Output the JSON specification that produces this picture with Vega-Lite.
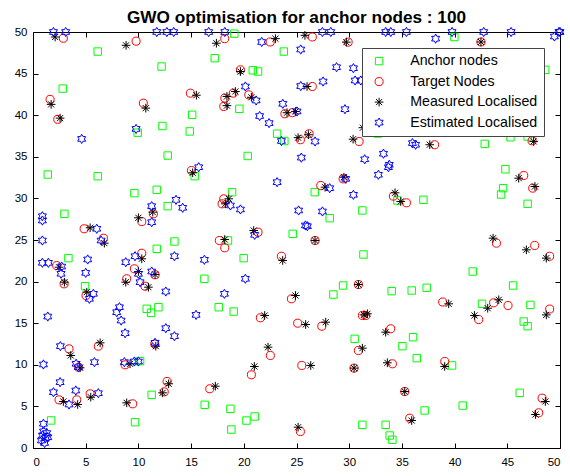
{
  "$schema": "https://vega.github.io/schema/vega-lite/v6.json",
  "autosize": "none",
  "width": 527,
  "height": 416,
  "padding": {"left": 33, "top": 32, "right": 10, "bottom": 28},
  "background": "white",
  "title": {"text": "GWO optimisation for anchor nodes : 100", "font": "Liberation Sans", "fontSize": 17.2, "fontWeight": "bold", "color": "black", "anchor": "middle", "offset": -1},
  "config": {"view": {"stroke": "black", "strokeWidth": 1}, "axis": {"grid": false, "domainColor": "black", "tickColor": "black", "labelColor": "black", "labelFont": "Liberation Sans", "labelFontSize": 11.5, "tickSize": -5, "title": null}},
  "datasets": {
    "pts": [
      {"s":"Anchor nodes","x":6.14,"y":47.65},{"s":"Anchor nodes","x":12.2,"y":45.85},{"s":"Anchor nodes","x":2.82,"y":43.2},{"s":"Anchor nodes","x":12.28,"y":38.7},{"s":"Anchor nodes","x":9.93,"y":37.9},{"s":"Anchor nodes","x":12.78,"y":35.15},{"s":"Anchor nodes","x":19.1,"y":49.8},{"s":"Anchor nodes","x":23.8,"y":47.65},{"s":"Anchor nodes","x":17.24,"y":46.85},{"s":"Anchor nodes","x":20.85,"y":45.4},{"s":"Anchor nodes","x":21.35,"y":45.25},{"s":"Anchor nodes","x":19.58,"y":40.77},{"s":"Anchor nodes","x":15.1,"y":40.05},{"s":"Anchor nodes","x":23.16,"y":37.77},{"s":"Anchor nodes","x":23.85,"y":36.9},{"s":"Anchor nodes","x":14.87,"y":38.05},{"s":"Anchor nodes","x":20.37,"y":35.1},{"s":"Anchor nodes","x":32.7,"y":37.8},{"s":"Anchor nodes","x":39.98,"y":49.4},{"s":"Anchor nodes","x":48.6,"y":45.45},{"s":"Anchor nodes","x":42.86,"y":36.55},{"s":"Anchor nodes","x":45.3,"y":37.35},{"s":"Anchor nodes","x":46.93,"y":37.44},{"s":"Anchor nodes","x":44.82,"y":33.5},{"s":"Anchor nodes","x":1.4,"y":32.87},{"s":"Anchor nodes","x":6.14,"y":32.67},{"s":"Anchor nodes","x":9.62,"y":30.63},{"s":"Anchor nodes","x":11.74,"y":31.03},{"s":"Anchor nodes","x":12.78,"y":29.07},{"s":"Anchor nodes","x":2.98,"y":28.15},{"s":"Anchor nodes","x":11.74,"y":23.94},{"s":"Anchor nodes","x":3.36,"y":22.82},{"s":"Anchor nodes","x":4.94,"y":19.45},{"s":"Anchor nodes","x":10.79,"y":16.73},{"s":"Anchor nodes","x":11.9,"y":16.92},{"s":"Anchor nodes","x":11.2,"y":16.25},{"s":"Anchor nodes","x":13.42,"y":24.82},{"s":"Anchor nodes","x":15.34,"y":32.67},{"s":"Anchor nodes","x":18.89,"y":30.75},{"s":"Anchor nodes","x":24.64,"y":25.74},{"s":"Anchor nodes","x":18.5,"y":24.94},{"s":"Anchor nodes","x":19.99,"y":22.82},{"s":"Anchor nodes","x":16.26,"y":20.34},{"s":"Anchor nodes","x":17.62,"y":16.92},{"s":"Anchor nodes","x":19.04,"y":16.4},{"s":"Anchor nodes","x":26.73,"y":30.75},{"s":"Anchor nodes","x":34.57,"y":29.75},{"s":"Anchor nodes","x":37.04,"y":29.83},{"s":"Anchor nodes","x":28.15,"y":27.62},{"s":"Anchor nodes","x":31.25,"y":28.55},{"s":"Anchor nodes","x":31.35,"y":23.26},{"s":"Anchor nodes","x":29.42,"y":19.53},{"s":"Anchor nodes","x":28.5,"y":18.45},{"s":"Anchor nodes","x":34.03,"y":18.85},{"s":"Anchor nodes","x":35.93,"y":18.93},{"s":"Anchor nodes","x":37.35,"y":19.26},{"s":"Anchor nodes","x":44.6,"y":31.23},{"s":"Anchor nodes","x":44.41,"y":30.47},{"s":"Anchor nodes","x":46.93,"y":29.35},{"s":"Anchor nodes","x":41.72,"y":21.21},{"s":"Anchor nodes","x":45.55,"y":19.53},{"s":"Anchor nodes","x":42.6,"y":17.33},{"s":"Anchor nodes","x":47.19,"y":17.2},{"s":"Anchor nodes","x":46.56,"y":15.2},{"s":"Anchor nodes","x":46.93,"y":14.64},{"s":"Anchor nodes","x":39.76,"y":9.92},{"s":"Anchor nodes","x":46.18,"y":6.63},{"s":"Anchor nodes","x":40.77,"y":5.1},{"s":"Anchor nodes","x":30.52,"y":13.12},{"s":"Anchor nodes","x":36.06,"y":13.32},{"s":"Anchor nodes","x":35.05,"y":12.24},{"s":"Anchor nodes","x":36.41,"y":10.8},{"s":"Anchor nodes","x":37.16,"y":4.51},{"s":"Anchor nodes","x":31.25,"y":2.79},{"s":"Anchor nodes","x":33.46,"y":2.79},{"s":"Anchor nodes","x":33.84,"y":1.5},{"s":"Anchor nodes","x":34.1,"y":0.99},{"s":"Anchor nodes","x":16.29,"y":5.19},{"s":"Anchor nodes","x":18.73,"y":4.71},{"s":"Anchor nodes","x":20.25,"y":3.3},{"s":"Anchor nodes","x":21.03,"y":3.79},{"s":"Anchor nodes","x":18.82,"y":2.22},{"s":"Anchor nodes","x":10.16,"y":10.44},{"s":"Anchor nodes","x":11.26,"y":6.39},{"s":"Anchor nodes","x":9.68,"y":3.1},{"s":"Anchor nodes","x":1.72,"y":3.31},
      {"s":"Target Nodes","x":2.88,"y":49.25},{"s":"Target Nodes","x":9.78,"y":48.9},{"s":"Target Nodes","x":1.62,"y":41.9},{"s":"Target Nodes","x":10.47,"y":41.45},{"s":"Target Nodes","x":2.35,"y":39.5},{"s":"Target Nodes","x":18.19,"y":49.2},{"s":"Target Nodes","x":22.5,"y":48.8},{"s":"Target Nodes","x":19.68,"y":45.45},{"s":"Target Nodes","x":14.93,"y":42.65},{"s":"Target Nodes","x":19.0,"y":42.65},{"s":"Target Nodes","x":18.2,"y":42.05},{"s":"Target Nodes","x":18.1,"y":41.05},{"s":"Target Nodes","x":20.47,"y":42.45},{"s":"Target Nodes","x":23.9,"y":40.17},{"s":"Target Nodes","x":24.6,"y":40.3},{"s":"Target Nodes","x":25.37,"y":37.05},{"s":"Target Nodes","x":26.5,"y":49.4},{"s":"Target Nodes","x":29.9,"y":48.78},{"s":"Target Nodes","x":26.5,"y":43.45},{"s":"Target Nodes","x":26.2,"y":37.77},{"s":"Target Nodes","x":30.94,"y":36.84},{"s":"Target Nodes","x":38.1,"y":36.45},{"s":"Target Nodes","x":42.5,"y":48.8},{"s":"Target Nodes","x":47.35,"y":36.92},{"s":"Target Nodes","x":4.85,"y":26.35},{"s":"Target Nodes","x":6.68,"y":25.22},{"s":"Target Nodes","x":10.32,"y":27.22},{"s":"Target Nodes","x":11.42,"y":28.15},{"s":"Target Nodes","x":2.25,"y":21.93},{"s":"Target Nodes","x":2.95,"y":19.73},{"s":"Target Nodes","x":5.03,"y":18.33},{"s":"Target Nodes","x":10.32,"y":23.41},{"s":"Target Nodes","x":9.62,"y":21.54},{"s":"Target Nodes","x":8.89,"y":20.34},{"s":"Target Nodes","x":11.58,"y":20.82},{"s":"Target Nodes","x":10.63,"y":19.45},{"s":"Target Nodes","x":15.03,"y":33.35},{"s":"Target Nodes","x":18.1,"y":29.95},{"s":"Target Nodes","x":17.94,"y":29.35},{"s":"Target Nodes","x":21.35,"y":25.94},{"s":"Target Nodes","x":17.68,"y":24.94},{"s":"Target Nodes","x":18.19,"y":24.06},{"s":"Target Nodes","x":23.57,"y":23.05},{"s":"Target Nodes","x":24.52,"y":17.93},{"s":"Target Nodes","x":27.3,"y":31.55},{"s":"Target Nodes","x":29.42,"y":32.35},{"s":"Target Nodes","x":34.19,"y":30.27},{"s":"Target Nodes","x":35.43,"y":29.47},{"s":"Target Nodes","x":26.76,"y":24.94},{"s":"Target Nodes","x":30.87,"y":19.65},{"s":"Target Nodes","x":38.87,"y":17.55},{"s":"Target Nodes","x":46.56,"y":32.75},{"s":"Target Nodes","x":47.41,"y":31.23},{"s":"Target Nodes","x":43.97,"y":24.62},{"s":"Target Nodes","x":47.6,"y":24.34},{"s":"Target Nodes","x":49.02,"y":23.05},{"s":"Target Nodes","x":43.7,"y":17.45},{"s":"Target Nodes","x":45.07,"y":17.13},{"s":"Target Nodes","x":49.02,"y":16.7},{"s":"Target Nodes","x":42.29,"y":15.44},{"s":"Target Nodes","x":39.06,"y":10.4},{"s":"Target Nodes","x":48.3,"y":5.99},{"s":"Target Nodes","x":47.98,"y":4.23},{"s":"Target Nodes","x":27.4,"y":14.64},{"s":"Target Nodes","x":31.25,"y":15.93},{"s":"Target Nodes","x":31.57,"y":15.93},{"s":"Target Nodes","x":33.94,"y":14.33},{"s":"Target Nodes","x":30.87,"y":11.72},{"s":"Target Nodes","x":25.5,"y":9.92},{"s":"Target Nodes","x":30.46,"y":9.6},{"s":"Target Nodes","x":34.1,"y":10.12},{"s":"Target Nodes","x":35.27,"y":6.79},{"s":"Target Nodes","x":35.74,"y":3.58},{"s":"Target Nodes","x":25.37,"y":1.98},{"s":"Target Nodes","x":21.57,"y":15.65},{"s":"Target Nodes","x":25.11,"y":15.0},{"s":"Target Nodes","x":22.52,"y":11.12},{"s":"Target Nodes","x":20.72,"y":8.8},{"s":"Target Nodes","x":12.72,"y":8.0},{"s":"Target Nodes","x":12.45,"y":6.75},{"s":"Target Nodes","x":16.77,"y":7.12},{"s":"Target Nodes","x":3.42,"y":11.92},{"s":"Target Nodes","x":4.31,"y":9.71},{"s":"Target Nodes","x":6.2,"y":12.24},{"s":"Target Nodes","x":8.74,"y":10.0},{"s":"Target Nodes","x":11.55,"y":12.5},{"s":"Target Nodes","x":2.47,"y":5.79},{"s":"Target Nodes","x":4.15,"y":5.79},{"s":"Target Nodes","x":5.42,"y":6.51},{"s":"Target Nodes","x":9.46,"y":5.31},
      {"s":"Measured Localised","x":2.1,"y":49.4},{"s":"Measured Localised","x":8.83,"y":48.4},{"s":"Measured Localised","x":1.72,"y":41.3},{"s":"Measured Localised","x":10.7,"y":40.85},{"s":"Measured Localised","x":2.57,"y":39.65},{"s":"Measured Localised","x":17.4,"y":48.65},{"s":"Measured Localised","x":23.0,"y":49.2},{"s":"Measured Localised","x":25.8,"y":49.6},{"s":"Measured Localised","x":19.68,"y":45.25},{"s":"Measured Localised","x":26.0,"y":43.45},{"s":"Measured Localised","x":15.5,"y":42.4},{"s":"Measured Localised","x":19.2,"y":42.85},{"s":"Measured Localised","x":18.4,"y":42.25},{"s":"Measured Localised","x":18.4,"y":41.15},{"s":"Measured Localised","x":20.72,"y":42.15},{"s":"Measured Localised","x":24.1,"y":40.3},{"s":"Measured Localised","x":24.9,"y":40.45},{"s":"Measured Localised","x":25.15,"y":37.3},{"s":"Measured Localised","x":29.73,"y":48.78},{"s":"Measured Localised","x":26.13,"y":37.65},{"s":"Measured Localised","x":30.37,"y":37.12},{"s":"Measured Localised","x":31.3,"y":38.5},{"s":"Measured Localised","x":37.64,"y":36.45},{"s":"Measured Localised","x":42.5,"y":48.8},{"s":"Measured Localised","x":47.5,"y":36.85},{"s":"Measured Localised","x":5.42,"y":26.47},{"s":"Measured Localised","x":6.77,"y":24.62},{"s":"Measured Localised","x":10.0,"y":27.67},{"s":"Measured Localised","x":11.36,"y":28.35},{"s":"Measured Localised","x":2.47,"y":21.73},{"s":"Measured Localised","x":2.98,"y":19.93},{"s":"Measured Localised","x":5.1,"y":18.73},{"s":"Measured Localised","x":10.32,"y":22.74},{"s":"Measured Localised","x":10.0,"y":21.21},{"s":"Measured Localised","x":8.8,"y":19.93},{"s":"Measured Localised","x":11.58,"y":20.85},{"s":"Measured Localised","x":10.95,"y":19.33},{"s":"Measured Localised","x":15.15,"y":33.08},{"s":"Measured Localised","x":18.57,"y":29.95},{"s":"Measured Localised","x":18.25,"y":29.35},{"s":"Measured Localised","x":20.94,"y":26.14},{"s":"Measured Localised","x":18.19,"y":25.06},{"s":"Measured Localised","x":23.69,"y":22.54},{"s":"Measured Localised","x":24.9,"y":18.33},{"s":"Measured Localised","x":27.71,"y":31.35},{"s":"Measured Localised","x":29.5,"y":32.55},{"s":"Measured Localised","x":34.35,"y":30.67},{"s":"Measured Localised","x":34.89,"y":29.63},{"s":"Measured Localised","x":26.76,"y":24.94},{"s":"Measured Localised","x":30.87,"y":19.65},{"s":"Measured Localised","x":39.44,"y":17.33},{"s":"Measured Localised","x":46.08,"y":32.43},{"s":"Measured Localised","x":47.62,"y":31.43},{"s":"Measured Localised","x":43.65,"y":25.22},{"s":"Measured Localised","x":46.81,"y":23.82},{"s":"Measured Localised","x":48.7,"y":22.82},{"s":"Measured Localised","x":44.19,"y":17.81},{"s":"Measured Localised","x":43.14,"y":16.8},{"s":"Measured Localised","x":48.7,"y":16.0},{"s":"Measured Localised","x":41.88,"y":15.93},{"s":"Measured Localised","x":39.06,"y":9.8},{"s":"Measured Localised","x":48.61,"y":5.59},{"s":"Measured Localised","x":47.67,"y":4.03},{"s":"Measured Localised","x":25.87,"y":14.84},{"s":"Measured Localised","x":27.77,"y":15.12},{"s":"Measured Localised","x":31.4,"y":16.0},{"s":"Measured Localised","x":31.73,"y":16.13},{"s":"Measured Localised","x":33.46,"y":13.92},{"s":"Measured Localised","x":31.25,"y":12.0},{"s":"Measured Localised","x":26.35,"y":9.92},{"s":"Measured Localised","x":30.46,"y":9.6},{"s":"Measured Localised","x":33.62,"y":10.24},{"s":"Measured Localised","x":35.27,"y":6.79},{"s":"Measured Localised","x":35.93,"y":3.3},{"s":"Measured Localised","x":25.15,"y":2.5},{"s":"Measured Localised","x":21.98,"y":15.93},{"s":"Measured Localised","x":22.3,"y":12.12},{"s":"Measured Localised","x":21.0,"y":9.8},{"s":"Measured Localised","x":12.87,"y":7.72},{"s":"Measured Localised","x":12.3,"y":6.63},{"s":"Measured Localised","x":17.3,"y":7.43},{"s":"Measured Localised","x":3.58,"y":11.12},{"s":"Measured Localised","x":4.47,"y":9.64},{"s":"Measured Localised","x":6.37,"y":12.64},{"s":"Measured Localised","x":9.21,"y":10.12},{"s":"Measured Localised","x":11.65,"y":12.24},{"s":"Measured Localised","x":2.88,"y":5.59},{"s":"Measured Localised","x":4.24,"y":5.23},{"s":"Measured Localised","x":5.48,"y":6.11},{"s":"Measured Localised","x":8.89,"y":5.43},
      {"s":"Estimated Localised","x":1.94,"y":50},{"s":"Estimated Localised","x":3.1,"y":50},{"s":"Estimated Localised","x":11.74,"y":50},{"s":"Estimated Localised","x":12.7,"y":50},{"s":"Estimated Localised","x":13.35,"y":50},{"s":"Estimated Localised","x":16.67,"y":50},{"s":"Estimated Localised","x":18.2,"y":50},{"s":"Estimated Localised","x":27.46,"y":50},{"s":"Estimated Localised","x":28.25,"y":50},{"s":"Estimated Localised","x":33.46,"y":50},{"s":"Estimated Localised","x":33.94,"y":50},{"s":"Estimated Localised","x":35.43,"y":50},{"s":"Estimated Localised","x":39.76,"y":50},{"s":"Estimated Localised","x":42.76,"y":50},{"s":"Estimated Localised","x":45.36,"y":50},{"s":"Estimated Localised","x":49.9,"y":50},{"s":"Estimated Localised","x":50,"y":50},{"s":"Estimated Localised","x":49.47,"y":49.46},
      {"s":"Estimated Localised","x":9.78,"y":38.35},{"s":"Estimated Localised","x":4.62,"y":37.15},{"s":"Estimated Localised","x":21.7,"y":48.8},{"s":"Estimated Localised","x":25.4,"y":47.9},{"s":"Estimated Localised","x":25.4,"y":43.5},{"s":"Estimated Localised","x":20.15,"y":43.45},{"s":"Estimated Localised","x":21.17,"y":41.77},{"s":"Estimated Localised","x":23.7,"y":41.37},{"s":"Estimated Localised","x":25.05,"y":40.45},{"s":"Estimated Localised","x":21.5,"y":39.9},{"s":"Estimated Localised","x":22.4,"y":39.05},{"s":"Estimated Localised","x":23.57,"y":36.9},{"s":"Estimated Localised","x":25.46,"y":34.9},{"s":"Estimated Localised","x":38.2,"y":49.2},{"s":"Estimated Localised","x":28.8,"y":45.77},{"s":"Estimated Localised","x":30.4,"y":45.65},{"s":"Estimated Localised","x":30.56,"y":44.17},{"s":"Estimated Localised","x":31.1,"y":44.17},{"s":"Estimated Localised","x":27.52,"y":44.05},{"s":"Estimated Localised","x":29.6,"y":40.72},{"s":"Estimated Localised","x":26.76,"y":36.84},{"s":"Estimated Localised","x":36.0,"y":36.65},{"s":"Estimated Localised","x":36.3,"y":36.45},{"s":"Estimated Localised","x":33.25,"y":35.37},{"s":"Estimated Localised","x":31.47,"y":34.7},{"s":"Estimated Localised","x":33.8,"y":34.04},
      {"s":"Estimated Localised","x":0.89,"y":27.86},{"s":"Estimated Localised","x":0.89,"y":27.34},{"s":"Estimated Localised","x":0.89,"y":24.94},{"s":"Estimated Localised","x":6.05,"y":26.35},{"s":"Estimated Localised","x":6.46,"y":24.94},{"s":"Estimated Localised","x":11.26,"y":29.07},{"s":"Estimated Localised","x":11.26,"y":27.14},{"s":"Estimated Localised","x":5.19,"y":22.66},{"s":"Estimated Localised","x":5.0,"y":21.05},{"s":"Estimated Localised","x":0.89,"y":22.26},{"s":"Estimated Localised","x":1.46,"y":22.26},{"s":"Estimated Localised","x":2.72,"y":21.81},{"s":"Estimated Localised","x":2.66,"y":20.94},{"s":"Estimated Localised","x":5.73,"y":18.53},{"s":"Estimated Localised","x":5.35,"y":17.93},{"s":"Estimated Localised","x":8.8,"y":22.33},{"s":"Estimated Localised","x":9.68,"y":23.05},{"s":"Estimated Localised","x":10.0,"y":20.93},{"s":"Estimated Localised","x":11.26,"y":21.21},{"s":"Estimated Localised","x":10.16,"y":19.93},{"s":"Estimated Localised","x":12.6,"y":18.81},{"s":"Estimated Localised","x":8.2,"y":16.92},
      {"s":"Estimated Localised","x":15.72,"y":33.75},{"s":"Estimated Localised","x":23.16,"y":31.95},{"s":"Estimated Localised","x":18.73,"y":29.15},{"s":"Estimated Localised","x":19.68,"y":28.67},{"s":"Estimated Localised","x":13.57,"y":29.83},{"s":"Estimated Localised","x":14.2,"y":28.87},{"s":"Estimated Localised","x":25.2,"y":28.55},{"s":"Estimated Localised","x":25.85,"y":26.75},{"s":"Estimated Localised","x":21.03,"y":25.62},{"s":"Estimated Localised","x":13.42,"y":23.05},{"s":"Estimated Localised","x":16.26,"y":22.62},{"s":"Estimated Localised","x":20.15,"y":20.34},{"s":"Estimated Localised","x":18.16,"y":18.53},{"s":"Estimated Localised","x":28.15,"y":31.23},{"s":"Estimated Localised","x":29.67,"y":32.35},{"s":"Estimated Localised","x":32.77,"y":32.84},{"s":"Estimated Localised","x":33.72,"y":33.75},{"s":"Estimated Localised","x":30.4,"y":30.43},{"s":"Estimated Localised","x":27.46,"y":28.43},{"s":"Estimated Localised","x":26.03,"y":26.66},
      {"s":"Estimated Localised","x":15.47,"y":16.0},{"s":"Estimated Localised","x":12.6,"y":14.4},{"s":"Estimated Localised","x":13.42,"y":13.44},{"s":"Estimated Localised","x":1.4,"y":15.8},{"s":"Estimated Localised","x":7.94,"y":16.32},{"s":"Estimated Localised","x":8.36,"y":15.32},{"s":"Estimated Localised","x":8.74,"y":13.8},{"s":"Estimated Localised","x":2.6,"y":12.24},{"s":"Estimated Localised","x":4.09,"y":10.12},{"s":"Estimated Localised","x":4.31,"y":9.71},{"s":"Estimated Localised","x":5.83,"y":10.32},{"s":"Estimated Localised","x":0.99,"y":10.04},{"s":"Estimated Localised","x":8.67,"y":10.32},{"s":"Estimated Localised","x":9.62,"y":10.4},{"s":"Estimated Localised","x":10.0,"y":10.4},{"s":"Estimated Localised","x":11.58,"y":12.64},{"s":"Estimated Localised","x":2.57,"y":7.91},{"s":"Estimated Localised","x":1.94,"y":6.7},{"s":"Estimated Localised","x":3.42,"y":5.23},{"s":"Estimated Localised","x":4.06,"y":6.91},{"s":"Estimated Localised","x":6.2,"y":6.59},{"s":"Estimated Localised","x":0.99,"y":2.91},{"s":"Estimated Localised","x":1.0,"y":2.0},{"s":"Estimated Localised","x":1.3,"y":1.8},{"s":"Estimated Localised","x":0.9,"y":1.5},{"s":"Estimated Localised","x":1.2,"y":1.2},{"s":"Estimated Localised","x":0.8,"y":0.9},{"s":"Estimated Localised","x":1.1,"y":0.6},{"s":"Estimated Localised","x":1.4,"y":1.3}
    ]
  },
  "data": {"name": "pts"},
  "layer": [
    {
      "mark": {"type": "point", "filled": false, "opacity": 1},
      "encoding": {
        "x": {"field": "x", "type": "quantitative", "scale": {"domain": [0, 50], "nice": false, "zero": false}, "axis": {"orient": "bottom", "values": [0,5,10,15,20,25,30,35,40,45,50], "labelPadding": 13, "domain": false}},
        "y": {"field": "y", "type": "quantitative", "scale": {"domain": [0, 50], "nice": false, "zero": false}, "axis": {"orient": "left", "values": [0,5,10,15,20,25,30,35,40,45,50], "labelPadding": 11, "domain": false}},
        "color": {"field": "s", "type": "nominal", "scale": {"domain": ["Anchor nodes", "Target Nodes", "Measured Localised", "Estimated Localised"], "range": ["#00ff00", "#ff0000", "#000000", "#0000ff"]}, "legend": {"title": null, "orient": "none", "legendX": 329, "legendY": 16, "fillColor": "white", "strokeColor": "#444444", "padding": 6, "symbolOffset": 4, "labelFont": "Liberation Sans", "labelFontSize": 14.2, "labelColor": "black", "symbolSize": 100, "symbolStrokeWidth": 1, "rowPadding": 5.5, "labelOffset": 24, "cornerRadius": 0}},
        "shape": {"field": "s", "type": "nominal", "scale": {"domain": ["Anchor nodes", "Target Nodes", "Measured Localised", "Estimated Localised"], "range": ["square", "circle", "M-1,0L1,0M0,-1L0,1M-0.7,-0.7L0.7,0.7M-0.7,0.7L0.7,-0.7", "M0,-1L0.2887,-0.5L0.866,-0.5L0.577,0L0.866,0.5L0.2887,0.5L0,1L-0.2887,0.5L-0.866,0.5L-0.577,0L-0.866,-0.5L-0.2887,-0.5Z"]}},
        "size": {"field": "s", "type": "nominal", "scale": {"domain": ["Anchor nodes", "Target Nodes", "Measured Localised", "Estimated Localised"], "range": [55, 85, 150, 130]}, "legend": null},
        "strokeWidth": {"field": "s", "type": "nominal", "scale": {"domain": ["Anchor nodes", "Target Nodes", "Measured Localised", "Estimated Localised"], "range": [1, 1, 1.3, 1]}, "legend": null}
      }
    },
    {
      "mark": {"type": "point", "opacity": 0},
      "encoding": {
        "x": {"field": "x", "type": "quantitative", "axis": {"orient": "top", "labels": false, "values": [0,5,10,15,20,25,30,35,40,45,50], "domain": false}},
        "y": {"field": "y", "type": "quantitative", "axis": {"orient": "right", "labels": false, "values": [0,5,10,15,20,25,30,35,40,45,50], "domain": false}}
      }
    }
  ],
  "resolve": {"axis": {"x": "independent", "y": "independent"}}
}
